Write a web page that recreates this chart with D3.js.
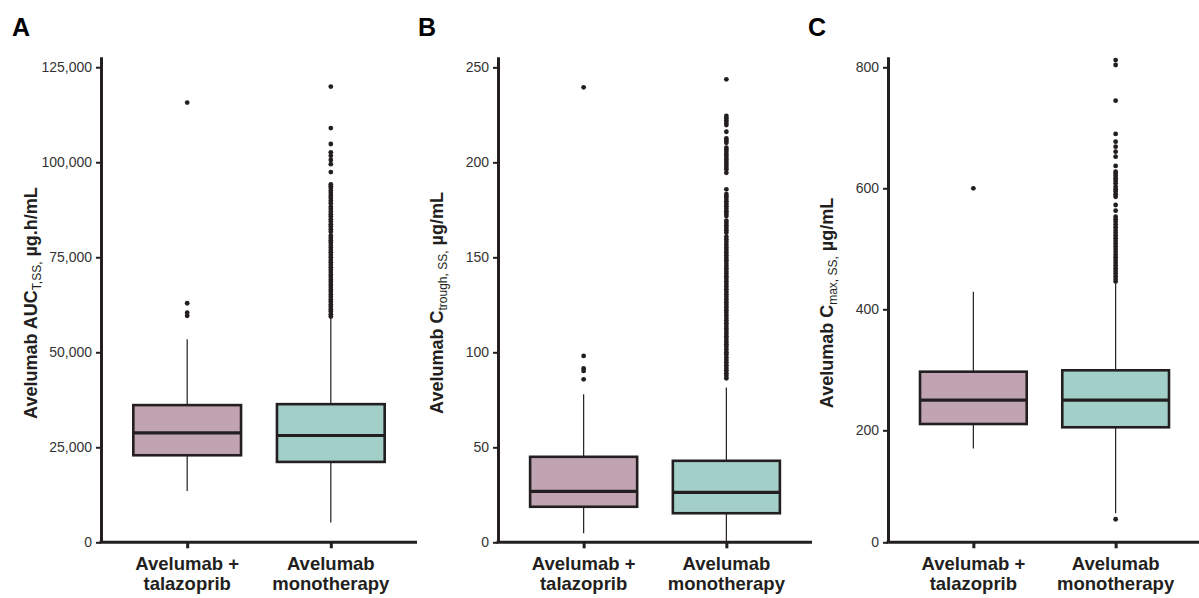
<!DOCTYPE html>
<html>
<head>
<meta charset="utf-8">
<script src="https://cdn.jsdelivr.net/npm/d3@7"></script>
<style>
  body { margin: 0; background: #fff; }
  text { font-family: "Liberation Sans", Arial, sans-serif; }
</style>
</head>
<body>
<svg id="chart" width="1199" height="598"></svg>
<script>
var groups = ["combo", "mono"];
var groupLabels = [["Avelumab +", "talazoprib"], ["Avelumab", "monotherapy"]];
var groupFills = ["#c1a4b1", "#a3cfc9"];

// box stats: [lower whisker, Q1, median, Q3, upper whisker]
var aucCombo = [13500, 22900, 28800, 36100, 53400];
var aucMono = [5200, 21150, 28100, 36350, 59300];
var aucComboOut = [59600, 60400, 62900, 115700];
var aucMonoOut = [59400, 60000, 60700, 61300, 62000, 62600, 63300, 63900, 64600, 65200, 65900, 66500,
  67200, 67800, 68500, 69100, 69800, 70400, 71100, 71700, 72400, 73000, 73700, 74300, 75000, 75600,
  76300, 76900, 77600, 78200, 78900, 79500, 80100, 80700,
  81700, 82400, 83100, 83700, 84400, 85000, 85700, 86300, 87000, 87700, 88300,
  89200, 89900, 90600, 91200, 91900, 92500, 93200, 93700, 94200,
  97400, 99500, 100600, 101700, 102600, 104800, 109000, 119900];
var aucTicks = [0, 25000, 50000, 75000, 100000, 125000];

var troughCombo = [4.7, 18.7, 26.8, 45.0, 77.9];
var troughMono = [0.3, 15.3, 26.3, 42.9, 81.5];
var troughComboOut = [85.8, 90.2, 91.5, 98.1, 239.5];
var troughMonoOut = [86.3, 87.6, 89.0, 90.5, 91.8, 93.2, 94.6, 96.0, 97.3, 98.8, 100.1, 101.5, 102.9,
  104.3, 105.6, 107.0, 108.4, 109.8, 111.2, 112.5, 113.9, 115.3, 116.7, 118.0, 119.4, 120.8, 122.2,
  123.6, 124.9, 126.3, 127.7, 129.1, 130.4, 131.8, 133.2, 134.6, 136.0, 137.3, 138.7, 140.1, 141.5,
  142.8, 144.2, 145.6, 147.0, 148.4, 149.7, 151.1, 152.5, 153.9, 155.2, 156.6, 158.0, 159.4, 160.8,
  162.9, 164.2, 165.5, 166.8, 168.1, 169.3,
  171.7, 173.0, 174.3, 175.6, 176.9, 178.2, 179.5, 180.8, 182.1, 183.3,
  185.8, 194.5,
  196.3, 197.6, 198.9, 200.2, 201.5, 202.8, 204.1, 205.4, 206.6, 207.7,
  210.3, 211.5, 212.6, 216.1,
  219.6, 220.8, 222.0, 223.2, 224.4, 243.7];
var troughTicks = [0, 50, 100, 150, 200, 250];

var cmaxCombo = [170, 210.4, 250, 296.9, 429];
var cmaxMono = [62.8, 205, 250, 299.2, 443];
var cmaxComboOut = [600];
var cmaxMonoOut = [53, 446, 450, 454.5, 459, 463.5, 468, 472.5, 477, 481.5, 486, 490.5, 495, 499.5,
  504, 508.5, 513, 517.5, 522, 526.5, 531, 535.5, 540, 544.5, 549, 553,
  563, 572.4, 586, 590, 594.5, 598.5, 602.6,
  608.3, 612.5, 616.5, 620.5, 624, 627.4,
  636.9, 652.2, 660.5, 668.8, 677, 689.8, 744.8, 803.8, 812];
var cmaxTicks = [0, 200, 400, 600, 800];

var ink = "#231f20";
var plotTop = 56.7, plotBottom = 542.3;

var panels = [
  {letter: "A", letterX: 12, left: 101, right: 417, domain: [0, 127770], ticks: aucTicks,
   fmt: d3.format(","), titleX: 37, title: ["Avelumab AUC", "T,SS,", " µg.h/mL"],
   boxes: [aucCombo, aucMono], outs: [aucComboOut, aucMonoOut]},
  {letter: "B", letterX: 418, left: 498, right: 812, domain: [0, 255.6], ticks: troughTicks,
   fmt: d3.format("d"), titleX: 443, title: ["Avelumab C", "trough, SS,", " µg/mL"],
   boxes: [troughCombo, troughMono], outs: [troughComboOut, troughMonoOut]},
  // original axis starts a bit above zero, the 0 label sits on the axis line
  {letter: "C", letterX: 808, left: 888, right: 1201, domain: [14.9, 817.5], ticks: cmaxTicks,
   fmt: d3.format("d"), titleX: 833, title: ["Avelumab C", "max, SS,", " µg/mL"],
   boxes: [cmaxCombo, cmaxMono], outs: [cmaxComboOut, cmaxMonoOut]}
];

var svg = d3.select("#chart");

panels.forEach(function(p) {
  var y = d3.scaleLinear().domain(p.domain).range([plotBottom, plotTop]).clamp(true);
  var x = d3.scalePoint().domain(groups).range([p.left, p.right]).padding(0.6);
  var bw = x.step() * 0.75;
  var g = svg.append("g");

  var data = groups.map(function(k, i) {
    return {key: k, s: p.boxes[i], outs: p.outs[i], fill: groupFills[i]};
  });

  // whiskers
  g.selectAll(".whisker").data(data).enter().append("line")
    .attr("x1", d => x(d.key)).attr("x2", d => x(d.key))
    .attr("y1", d => y(d.s[0])).attr("y2", d => y(d.s[4]))
    .attr("stroke", ink).attr("stroke-width", 1.2);

  // boxes
  g.selectAll(".box").data(data).enter().append("rect")
    .attr("x", d => x(d.key) - bw / 2)
    .attr("width", bw)
    .attr("y", d => y(d.s[3]))
    .attr("height", d => y(d.s[1]) - y(d.s[3]))
    .attr("fill", d => d.fill)
    .attr("stroke", ink).attr("stroke-width", 2.6);

  // medians
  g.selectAll(".median").data(data).enter().append("line")
    .attr("x1", d => x(d.key) - bw / 2).attr("x2", d => x(d.key) + bw / 2)
    .attr("y1", d => y(d.s[2])).attr("y2", d => y(d.s[2]))
    .attr("stroke", ink).attr("stroke-width", 3.2);

  // outliers
  data.forEach(function(d) {
    g.selectAll(null).data(d.outs).enter().append("circle")
      .attr("cx", x(d.key)).attr("cy", v => y(v)).attr("r", 2.4)
      .attr("fill", ink);
  });

  // y axis
  var ya = g.append("g").attr("transform", "translate(" + p.left + ",0)")
    .call(d3.axisLeft(y).tickValues(p.ticks).tickFormat(p.fmt).tickSize(5).tickPadding(4).tickSizeOuter(0));
  ya.select(".domain").attr("stroke", ink).attr("stroke-width", 3);
  ya.selectAll(".tick line").attr("stroke", ink).attr("stroke-width", 2);
  ya.selectAll(".tick text").attr("fill", "#333").style("font-size", "14px");

  // x axis
  var xa = g.append("g").attr("transform", "translate(0," + plotBottom + ")")
    .call(d3.axisBottom(x).tickSize(6).tickSizeOuter(0).tickFormat(""));
  xa.select(".domain").attr("stroke", ink).attr("stroke-width", 3)
    .attr("d", "M" + (p.left - 1.5) + ",0H" + p.right);
  xa.selectAll(".tick line").attr("stroke", ink).attr("stroke-width", 3);
  xa.selectAll(".tick text").remove();

  groups.forEach(function(k, i) {
    var t = g.append("text").attr("text-anchor", "middle")
      .attr("fill", ink).style("font-size", "18.5px").style("font-weight", "bold");
    groupLabels[i].forEach(function(line, j) {
      t.append("tspan").attr("x", x(k)).attr("y", 570 + j * 20).text(line);
    });
  });

  // y title with subscript
  var tt = g.append("text")
    .attr("transform", "translate(" + p.titleX + "," + 303 + ") rotate(-90)")
    .attr("text-anchor", "middle").attr("fill", ink)
    .style("font-size", "18px").style("font-weight", "bold");
  tt.append("tspan").text(p.title[0]);
  tt.append("tspan").attr("dy", 4).style("font-size", "12px").style("font-weight", "normal").text(p.title[1]);
  tt.append("tspan").attr("dy", -4).text(p.title[2]);

  // panel letter
  svg.append("text").attr("x", p.letterX).attr("y", 36)
    .attr("fill", "#000").style("font-size", "25px").style("font-weight", "bold")
    .text(p.letter);
});
</script>
</body>
</html>
